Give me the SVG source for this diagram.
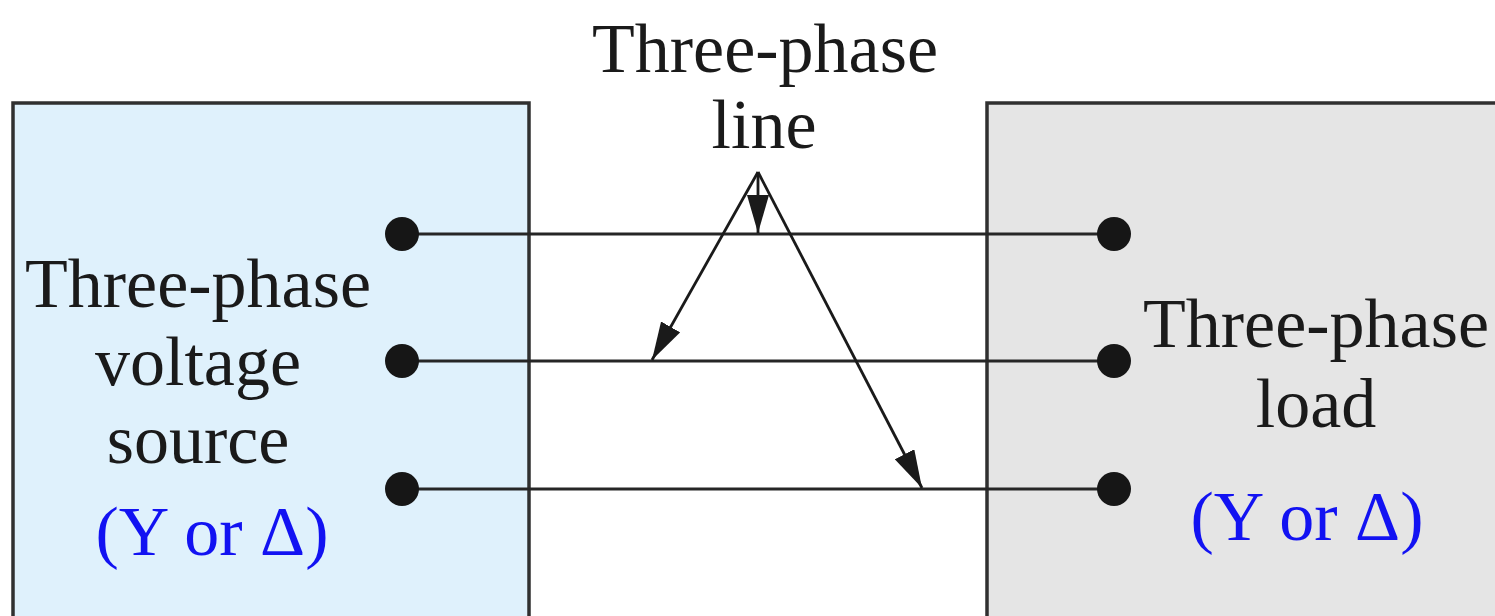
<svg xmlns="http://www.w3.org/2000/svg" width="1495" height="616" viewBox="0 0 1495 616">
  <style>
    .box { stroke: #303030; stroke-width: 3.5; }
    .wire { stroke: #262626; stroke-width: 3; fill: none; }
    .ptr { stroke: #1a1a1a; stroke-width: 2.8; fill: none; }
    .dot { fill: #161616; }
    .lbl { font-family: "Liberation Serif", "Times New Roman", serif; font-size: 70px; fill: #1a1a1a; text-anchor: middle; }
    .blue { fill: #1212f2; }
  </style>
  <defs>
    <marker id="arr" viewBox="0 0 38 22" refX="38" refY="11" markerWidth="38" markerHeight="22" markerUnits="userSpaceOnUse" orient="auto">
      <path d="M0,0 L38,11 L0,22 Z" fill="#1a1a1a"/>
    </marker>
  </defs>

  <g id="source">
    <rect class="box" x="13" y="103" width="516" height="540" fill="#dff1fc"/>
    <text class="lbl" x="198" y="307">Three-phase</text>
    <text class="lbl" x="198" y="385">voltage</text>
    <text class="lbl" x="198" y="463">source</text>
    <text class="lbl blue" x="212" y="555">(Y or Δ)</text>
  </g>

  <g id="load">
    <rect class="box" x="987" y="103" width="540" height="540" fill="#e5e5e5"/>
    <text class="lbl" x="1316" y="347">Three-phase</text>
    <text class="lbl" x="1316" y="427">load</text>
    <text class="lbl blue" x="1307" y="540">(Y or Δ)</text>
  </g>

  <g id="line-label">
    <text class="lbl" x="765" y="72">Three-phase</text>
    <text class="lbl" x="764" y="148">line</text>
  </g>

  <g id="connectors">
    <line class="wire" x1="402" y1="234" x2="1114" y2="234"/>
    <line class="wire" x1="402" y1="361" x2="1114" y2="361"/>
    <line class="wire" x1="402" y1="489" x2="1114" y2="489"/>
    <line class="ptr" x1="758" y1="172" x2="758" y2="233" marker-end="url(#arr)"/>
    <line class="ptr" x1="758" y1="172" x2="652" y2="360" marker-end="url(#arr)"/>
    <line class="ptr" x1="758" y1="172" x2="922" y2="488" marker-end="url(#arr)"/>
  </g>

  <g id="terminals">
    <circle class="dot" cx="402" cy="234" r="17"/>
    <circle class="dot" cx="402" cy="361" r="17"/>
    <circle class="dot" cx="402" cy="489" r="17"/>
    <circle class="dot" cx="1114" cy="234" r="17"/>
    <circle class="dot" cx="1114" cy="361" r="17"/>
    <circle class="dot" cx="1114" cy="489" r="17"/>
  </g>
</svg>
